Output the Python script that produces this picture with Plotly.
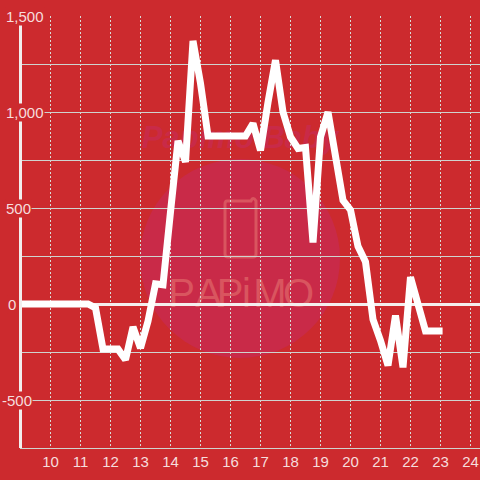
import plotly.graph_objects as go

hours = [8.88, 9.25, 9.5, 9.75, 10, 10.25, 10.5, 10.75, 11, 11.25, 11.5, 11.75, 12, 12.25, 12.5, 12.75, 13, 13.25,
         13.5, 13.75, 14, 14.25, 14.5, 14.75, 15, 15.25, 15.5, 15.75, 16, 16.25, 16.5, 16.75, 17, 17.25,
         17.5, 17.75, 18, 18.25, 18.5, 18.75, 19, 19.25, 19.5, 19.75, 20, 20.25, 20.5, 20.75, 21, 21.25,
         21.5, 21.75, 22, 22.25, 22.5, 22.75, 23.07]
values = [0, 0, 0, 0, 0, 0, 0, 0, 0, 0, -20, -235, -235, -235, -290, -120, -230, -90,
          105, 100, 480, 850, 740, 1370, 1150, 875, 875, 875, 875, 875, 875, 940, 800, 1050,
          1270, 1000, 870, 810, 815, 320, 870, 1000, 780, 540, 490, 300, 220, -80, -190, -320,
          -60, -330, 140, 0, -140, -140, -140]
x_ticks = list(range(10, 25))
y_label_values = [1500, 1000, 500, 0, -500]
y_label_texts = ["1,500", "1,000", "500", "0", "-500"]
y_label_left_px = [5, 5, 5, 7, 1]

BG = "#cc2a2e"
TXT = "#f6dddd"
W = 460.0


def px(p):
    return (p - 20) / W


def py(p):
    return (448 - p) / 432.0


shapes = [
    dict(type="circle", xref="paper", yref="paper", x0=px(140), x1=px(340), y0=py(358), y1=py(159),
         fillcolor="#c92a48", line_width=0, layer="below"),
    dict(type="path", xref="paper", yref="paper", layer="below",
         path=f"M {px(250)} {py(201)} L {px(227)} {py(201)} Q {px(225)} {py(201)} {px(225)} {py(204)} "
              f"L {px(225)} {py(254)} Q {px(225)} {py(257)} {px(228)} {py(257)} "
              f"L {px(253)} {py(257)} Q {px(256)} {py(257)} {px(256)} {py(254)} "
              f"L {px(256)} {py(201)} Q {px(253)} {py(196)} {px(251)} {py(201)} L {px(250)} {py(201)}",
         line=dict(color="#d9555f", width=3)),
    dict(type="line", xref="paper", yref="paper", x0=px(20.5), x1=px(20.5), y0=0, y1=1,
         line=dict(color="#f2eeee", width=3), layer="above"),
]

shapes.append(dict(type="rect", xref="paper", yref="paper", x0=px(145), x1=px(335), y0=py(150), y1=py(118),
                   line_width=0, fillcolor="rgba(0,0,0,0)", layer="below",
                   label=dict(text="<b><i>Papimo Baby</i></b>", textposition="middle center",
                              font=dict(family="Liberation Sans", size=31, color="#c92a48"))))
for letter, left, wid in zip("PAPiMO", [173, 197, 222, 243, 257, 290], [17, 23, 16, 7, 26, 17]):
    shapes.append(dict(type="rect", xref="paper", yref="paper", x0=px(left), x1=px(left + wid), y0=py(308), y1=py(270),
                       line_width=0, fillcolor="rgba(0,0,0,0)", layer="below",
                       label=dict(text=letter, textposition="middle center",
                                  font=dict(family="Liberation Sans Narrow, Liberation Sans", size=40,
                                            color="#d9555f"))))

annotations = [
    dict(xref="paper", yref="y", x=px(left), y=v, text=t, showarrow=False, xanchor="left", yanchor="middle",
         bgcolor=BG, borderpad=0, font=dict(family="Liberation Sans", size=15, color=TXT))
    for v, t, left in zip(y_label_values, y_label_texts, y_label_left_px)
]

fig = go.Figure(go.Scatter(x=hours, y=values, mode="lines", cliponaxis=False, hoverinfo="skip",
                           line=dict(color="#ffffff", width=7)))
fig.update_layout(
    width=480, height=480, autosize=False,
    margin=dict(l=20, r=0, t=16, b=32),
    paper_bgcolor=BG, plot_bgcolor=BG, showlegend=False,
    shapes=shapes, annotations=annotations,
    xaxis=dict(range=[8.983, 24.317], tickvals=x_ticks, ticktext=[str(t) for t in x_ticks],
               showgrid=True, gridcolor="#d8dcd8", griddash="2px,2px", gridwidth=1,
               zeroline=False, showline=True, linecolor="#cfd3cf", linewidth=1, ticks="", ticklen=0,
               tickfont=dict(family="Liberation Sans", size=15, color=TXT)),
    yaxis=dict(range=[-750, 1500], dtick=250, showticklabels=False, showgrid=True, gridcolor="#cfd3cf",
               gridwidth=1, zeroline=True, zerolinecolor="#f4eeee", zerolinewidth=3, ticks=""),
)
fig.write_html("out.html", config=dict(displayModeBar=False),
               post_script="document.body.style.margin='0';document.body.style.overflow='hidden';")
